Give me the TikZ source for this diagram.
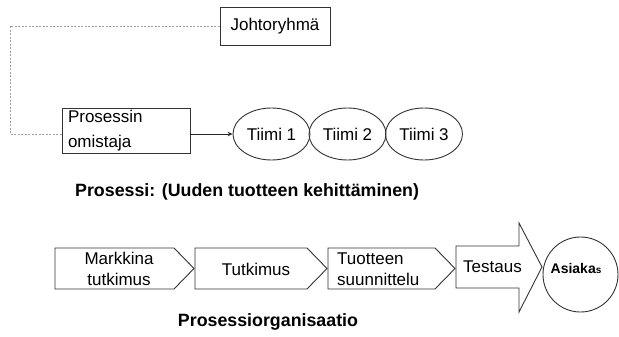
\documentclass[tikz,border=0pt]{standalone}
\usepackage{fontspec}
\setmainfont{Liberation Sans}
\usetikzlibrary{arrows.meta,shapes.geometric,calc}

\begin{document}
\begin{tikzpicture}[x=1pt,y=-1pt,
  stroke/.style={draw=black!80,line width=0.9pt},
  txt/.style={font=\fontsize{17}{21}\selectfont,inner sep=0pt},
  boldtxt/.style={font=\fontsize{17.8}{21}\selectfont\bfseries,inner sep=0pt},
  rectbox/.style={stroke,rectangle,inner sep=0pt,font=\fontsize{17}{21}\selectfont},
  teambox/.style={stroke,ellipse,inner sep=0pt,minimum width=77pt,minimum height=52pt,
    font=\fontsize{17}{21}\selectfont},
  link/.style={draw=gray!75,line width=0.9pt,dash pattern=on 2pt off 1.5pt},
  flow/.style={draw=black!85,line width=0.9pt,-{Stealth[length=5pt,width=4.5pt]}}
]
\useasboundingbox (0,0) rectangle (619,337);

% --- organisation of the process owner ---
\node[rectbox,minimum width=110pt,minimum height=38pt] (joht) at (275,26) {Johtoryhmä};
\node[rectbox,minimum width=128pt,minimum height=45pt,text width=116pt,align=left,
  font=\fontsize{17}{25}\selectfont] (omist) at (126,131) {Prosessin\\omistaja};

\node[teambox] (t1) at (271.5,134) {Tiimi 1};
\node[teambox] (t2) at (347.5,134) {Tiimi 2};
\node[teambox] (t3) at (424,134) {Tiimi 3};

\coordinate (cornerA) at (10,26);
\draw[link] (joht.west) -- (cornerA) |- (omist.west |- t1.west);
\draw[flow] (omist.east |- t1.west) -- (t1.west);

\node[boldtxt,anchor=west] (title1) at (75,192) {Prosessi: (Uuden tuotteen kehittäminen)};

% --- process chain ---
\coordinate (s1) at (55,248);
\coordinate (s2) at (195,248);
\coordinate (s3) at (328,248);
\draw[stroke] (s1) -- ++(119,0) -- ++(20,20.5) -- ++(-20,20.5) -- ++(-119,0) -- cycle;
\draw[stroke] (s2) -- ++(112,0) -- ++(20,20.5) -- ++(-20,20.5) -- ++(-112,0) -- cycle;
\draw[stroke] (s3) -- ++(107,0) -- ++(20,20.5) -- ++(-20,20.5) -- ++(-107,0) -- cycle;

\node[txt,align=center] (markk) at (119,268.5) {Markkina\\tutkimus};
\node[txt] (tutk) at (256,269) {Tutkimus};
\node[txt,align=left,anchor=west] (suun) at (337,269) {Tuotteen\\suunnittelu};

% large arrow for testing
\coordinate (tb) at (456,246);
\draw[stroke] (tb) -- (519,246) -- (519,223) -- (542,267) -- (519,312) -- (519,288) -- (456,288) -- cycle;
\node[txt] (test) at (492.5,267) {Testaus};

% customer
\node[stroke,circle,minimum size=75pt,inner sep=0pt] (asiak) at (580.5,274.5) {};
\node[inner sep=0pt,font=\fontsize{14}{17}\selectfont\bfseries] (asiaktxt) at (576,268)
  {Asiaka{\fontsize{10}{12}\selectfont s}};

\node[boldtxt] (title2) at (268,322) {Prosessiorganisaatio};
\end{tikzpicture}
\end{document}
